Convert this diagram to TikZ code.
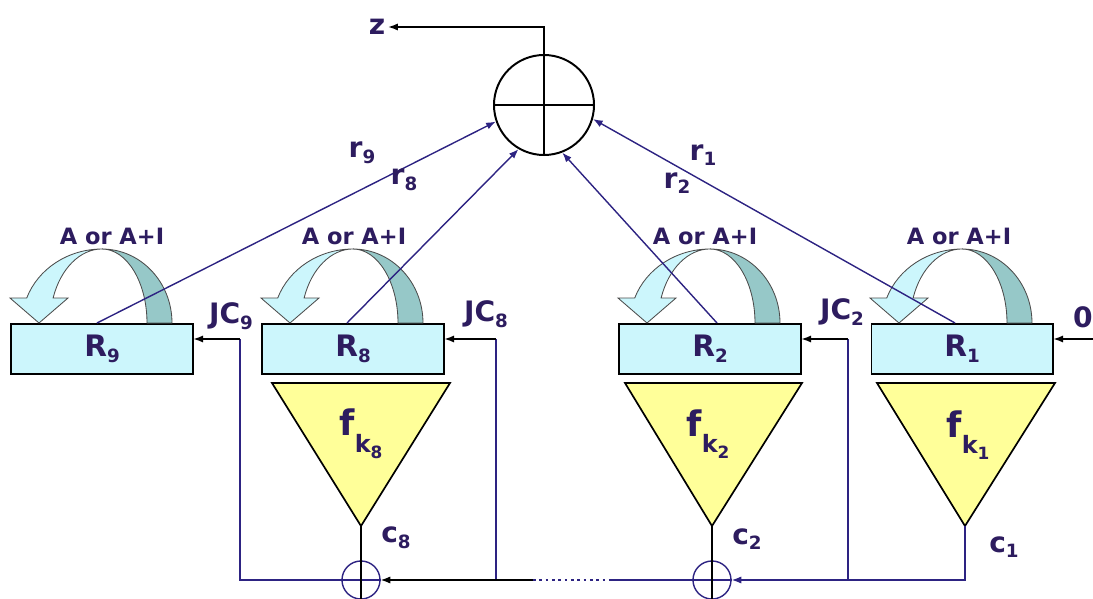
\documentclass[tikz,border=0pt]{standalone}
\usepackage{fontspec}
\setmainfont{DejaVu Sans}
\usetikzlibrary{arrows.meta, calc}
\usepackage{xcolor}
\definecolor{ink}{RGB}{45,28,95}
\definecolor{wire}{RGB}{45,35,130}
\definecolor{regfill}{RGB}{204,246,252}
\definecolor{bandfill}{RGB}{150,200,200}
\definecolor{funcfill}{RGB}{255,255,153}

\newcommand{\lsub}[1]{\raisebox{-4pt}{\fontsize{13}{14}\selectfont #1}}
\newcommand{\fk}[1]{{\fontsize{25}{27}\selectfont f}\raisebox{-12pt}{\fontsize{17}{19}\selectfont k\raisebox{-4pt}{\fontsize{12}{13}\selectfont #1}}}

\tikzset{
  reg/.style={draw, line width=1.4pt, fill=regfill, minimum width=4.525cm,
    minimum height=1.25cm, inner sep=0pt, text=ink,
    font=\fontsize{21}{23}\selectfont\bfseries},
  func/.style={draw, line width=1.2pt, fill=funcfill},
  lbl/.style={inner sep=2pt, text=ink, font=\fontsize{20}{22}\selectfont\bfseries},
  oplbl/.style={inner sep=2pt, text=ink, font=\fontsize{16}{18}\selectfont\bfseries},
  wire/.style={draw=wire, line width=1pt},
  tip/.style={-{Latex[length=2.4mm,width=1.8mm]}},
  xorbig/.style={circle, draw, line width=1.4pt, minimum size=2.5cm, inner sep=0pt},
  xorsmall/.style={circle, draw=wire, line width=1pt, minimum size=0.95cm, inner sep=0pt},
  loop arrow/.pic={
    \begin{scope}[yscale=-1, draw=black!70, line width=0.6pt]
      \filldraw[fill=bandfill] (70,0) arc[start angle=0, end angle=90, x radius=70, y radius=74]
        arc[start angle=90, end angle=0, x radius=45, y radius=74] -- cycle;
      \filldraw[fill=regfill] (0,74) arc[start angle=90, end angle=160.3, x radius=80, y radius=74]
        -- (-92,25) -- (-63,0) -- (-34,25) -- (-48.9,25)
        arc[start angle=160.3, end angle=90, x radius=52, y radius=74] -- cycle;
    \end{scope}
  }
}

\begin{document}
\begin{tikzpicture}[x=0.025cm, y=-0.025cm]
  \useasboundingbox (0,0) rectangle (1093,599);

  % registers
  \node[reg] (R9) at (102,349) {R\lsub{9}};
  \node[reg] (R8) at (353,349) {R\lsub{8}};
  \node[reg] (R2) at (710,349) {R\lsub{2}};
  \node[reg] (R1) at (962,349) {R\lsub{1}};

  % update arrows
  \pic at (R9.north) {loop arrow};
  \pic at (R8.north) {loop arrow};
  \pic at (R2.north) {loop arrow};
  \pic at (R1.north) {loop arrow};
  \node[oplbl] (op9) at (112,236) {A or A+I};
  \node[oplbl] (op8) at (354,236) {A or A+I};
  \node[oplbl] (op2) at (705,236) {A or A+I};
  \node[oplbl] (op1) at (959,236) {A or A+I};

  % output functions
  \draw[func] (272,383) -- (450,383) -- (361,526) coordinate (f8) -- cycle;
  \draw[func] (625,383) -- (802,383) -- (712,526) coordinate (f2) -- cycle;
  \draw[func] (877,383) -- (1055,383) -- (965,526) coordinate (f1) -- cycle;
  \node[lbl] (fk8) at (361,434) {\fk{8}};
  \node[lbl] (fk2) at (708,434) {\fk{2}};
  \node[lbl] (fk1) at (968,435) {\fk{1}};

  % main xor
  \node[xorbig] (sum) at (544,105) {};
  \draw[line width=1.4pt] (sum.west) -- (sum.east) (sum.north) -- (sum.south);
  \node[lbl] (z) at (377,27) {z};
  \draw[tip, line width=1pt] (sum.north) |- (z.east);

  % r lines
  \draw[wire, tip] ($(R9.north)+(-5,0)$) -- (sum.199);
  \draw[wire, tip] ($(R8.north)+(-6,0)$) -- (sum.240);
  \draw[wire, tip] ($(R2.north)+(7,0)$) -- (sum.291);
  \draw[wire, tip] ($(R1.north)+(-7,0)$) -- (sum.344);
  \node[lbl] (r9) at (362,153) {r\lsub{9}};
  \node[lbl] (r8) at (404,180) {r\lsub{8}};
  \node[lbl] (r2) at (677,183) {r\lsub{2}};
  \node[lbl] (r1) at (703,155) {r\lsub{1}};

  % chain of small xors
  \node[xorsmall] (x8) at (361,580) {};
  \node[xorsmall] (x2) at (712,580) {};
  \draw[wire] (x8.west) -- (x8.east) (x2.west) -- (x2.east);
  \draw[line width=1pt] (f8) -- (x8.south);
  \draw[line width=1pt] (f2) -- (x2.south);
  \node[lbl] (c8) at (396,538) {c\lsub{8}};
  \node[lbl] (c2) at (747,539) {c\lsub{2}};
  \node[lbl] (c1) at (1004,547) {c\lsub{1}};

  \coordinate (j9) at (240,339);
  \coordinate (t8) at (496,580);
  \coordinate (j8) at (496,339);
  \coordinate (t2) at (848,580);
  \coordinate (j2) at (848,339);
  \coordinate (d1) at (533,580);
  \coordinate (d2) at (610,580);
  \coordinate (in1) at (1093,339);

  \draw[wire] (x8.west) -| (j9);
  \draw[tip, line width=1pt] (j9) -- (R9.east |- j9);
  \draw[wire] (t8) -- (j8);
  \draw[tip, line width=1pt] (j8) -- (R8.east |- j8);
  \draw[tip, line width=1pt] (d1) -- (x8.east);
  \draw[wire, line width=2pt, dash pattern=on 2pt off 2.5pt] (d1) -- (d2);
  \draw[wire] (d2) -- (x2.west);
  \draw[wire, tip] (f1) |- (x2.east);
  \draw[wire] (t2) -- (j2);
  \draw[tip, line width=1pt] (j2) -- (R2.east |- j2);
  \draw[tip, line width=1pt] (in1) -- (R1.east |- in1);

  \node[lbl] (JC9) at (231,316) {JC\lsub{9}};
  \node[lbl] (JC8) at (486,314) {JC\lsub{8}};
  \node[lbl] (JC2) at (842,312) {JC\lsub{2}};
  \node[lbl] (zero) at (1083,317) {0};
\end{tikzpicture}
\end{document}
